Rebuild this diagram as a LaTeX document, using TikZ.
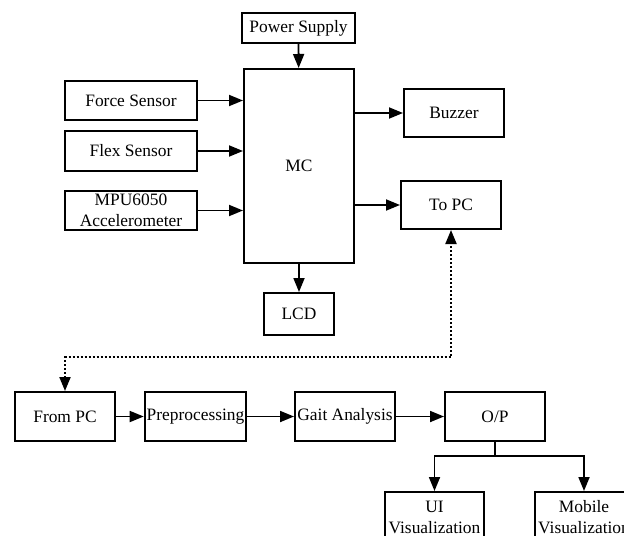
\documentclass[tikz,border=0pt]{standalone}
\usepackage{fontspec}
\setmainfont{Liberation Serif}
\usepackage{tikz}
\usetikzlibrary{arrows.meta}
\tikzset{blk/.style={draw, line width=1pt, inner sep=1pt, align=center,
   font=\fontsize{8.7}{10.5}\selectfont},
 arr/.style={line width=0.9pt, -{Triangle[length=7pt,width=5.5pt]}},
 link/.style={line width=1pt, densely dotted, {Triangle[length=7pt,width=5.5pt]}-{Triangle[length=7pt,width=5.5pt]}},
 }

\begin{document}
\begin{tikzpicture}[x=0.5pt, y=-0.5pt]
        \useasboundingbox (0,0) rectangle (624,535);
        \clip (0,0) rectangle (624,535);
        \node[blk, minimum width=56.5pt, minimum height=15pt] (ps) at (298.5,28) {Power Supply};
        \node[blk, minimum width=55pt, minimum height=97pt] (mc) at (299,166) {MC};
        \node[blk, minimum width=66pt, minimum height=19.5pt] (fs) at (131,100.5) {Force Sensor};
        \node[blk, minimum width=66pt, minimum height=20pt] (flex) at (131,151) {Flex Sensor};
        \node[blk, minimum width=66pt, minimum height=19.5pt] (mpu) at (131,210.5) {MPU6050\\Accelerometer};
        \node[blk, minimum width=50pt, minimum height=24pt] (buzz) at (454,113) {Buzzer};
        \node[blk, minimum width=50pt, minimum height=24pt] (topc) at (451,205) {To PC};
        \node[blk, minimum width=35pt, minimum height=21pt] (lcd) at (299,314) {LCD};
        \node[blk, minimum width=50pt, minimum height=24.5pt] (frompc) at (65,416.5) {From PC};
        \node[blk, minimum width=49.5pt, minimum height=24.5pt] (pre) at (195.5,416.5) {Preprocessing};
        \node[blk, minimum width=50pt, minimum height=24.5pt] (gait) at (345,416.5) {Gait Analysis};
        \node[blk, minimum width=50pt, minimum height=24.5pt] (op) at (495,416.5) {O/P};
        \node[blk, minimum width=49.5pt, minimum height=25pt] (ui) at (434.5,517) {UI\\Visualization};
        \node[blk, minimum width=49pt, minimum height=25pt] (mob) at (584,517) {Mobile\\Visualization};
        \coordinate (lnk) at (0,357);
        \coordinate (split) at (495,456);
        \draw[arr] (ps) -- (mc);
        \draw[arr] (fs.east) -- (fs.east -| mc.west);
        \draw[arr] (flex.east) -- (flex.east -| mc.west);
        \draw[arr] (mpu.east) -- (mpu.east -| mc.west);
        \draw[arr] (mc.east |- buzz.west) -- (buzz.west);
        \draw[arr] (mc.east |- topc.west) -- (topc.west);
        \draw[arr] (mc) -- (lcd);
        \draw[link] (frompc.north) -- (frompc.north |- lnk) -- (topc.south |- lnk) -- (topc.south);
        \draw[arr] (frompc) -- (pre);
        \draw[arr] (pre) -- (gait);
        \draw[arr] (gait) -- (op);
        \draw[line width=0.9pt] (op.south) -- (split);
        \draw[arr] (split) -| (ui.north);
        \draw[arr] (split) -| (mob.north);
    \end{tikzpicture}
\end{document}
